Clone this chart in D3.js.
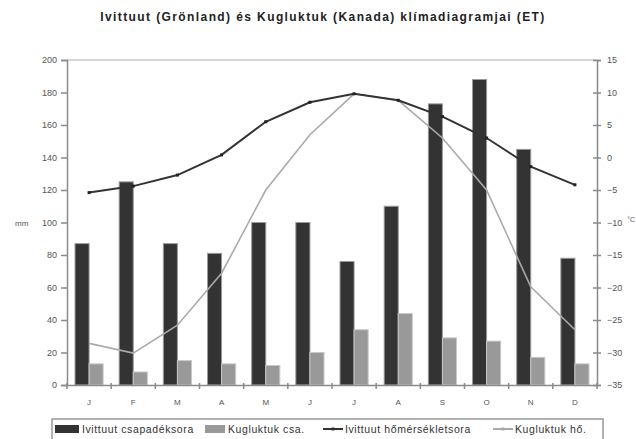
<!DOCTYPE html>
<html><head><meta charset="utf-8">
<script src="https://cdn.jsdelivr.net/npm/d3@7"></script>
<style>body{margin:0;background:#fff;} svg{display:block;font-family:"Liberation Sans",Arial,sans-serif;}</style>
</head><body>
<svg id="c" width="636" height="439"></svg>
<script>
const months = ["J","F","M","A","M","J","J","A","S","O","N","D"];
const ivPrecip = [87,125,87,81,100,100,76,110,173,188,145,78];
const kuPrecip = [13,8,15,13,12,20,34,44,29,27,17,13];
const ivTemp = [-5.4,-4.4,-2.7,0.4,5.5,8.5,9.8,8.8,6.3,3.0,-1.4,-4.2];
const kuTemp = [-28.6,-30.1,-25.8,-17.8,-5.0,3.5,9.8,8.8,3.0,-5.0,-19.9,-26.5];
const leftTicks = [0,20,40,60,80,100,120,140,160,180,200];
const rightTicks = [15,10,5,0,-5,-10,-15,-20,-25,-30,-35];
const title = "Ivittuut (Grönland) és Kugluktuk (Kanada) klímadiagramjai (ET)";
const legendLabels = ["Ivittuut csapadéksora","Kugluktuk csa.","Ivittuut hőmérsékletsora","Kugluktuk hő."];

const svg = d3.select("#c");
const L = 67, R = 597, T = 60, B = 385;
const x = d3.scaleBand().domain(d3.range(12)).range([L,R]);
const xi = d3.scaleBand().domain([0,1]).range([0,x.bandwidth()]).paddingInner(0).paddingOuter(0.57);
const yL = d3.scaleLinear().domain([0,200]).range([B,T]);
const yR = d3.scaleLinear().domain([-35,15]).range([B,T]);
const axisCol = "#8a8a8a";

svg.append("text").attr("x",323).attr("y",21).attr("text-anchor","middle")
  .attr("font-size",12).attr("letter-spacing",1.4).attr("font-weight","bold").attr("fill","#222").text(title);

// top border
svg.append("line").attr("x1",L).attr("x2",R).attr("y1",T).attr("y2",T).attr("stroke","#b0b0b0");

// bars
const g = svg.append("g");
g.selectAll(".d").data(ivPrecip).join("rect")
  .attr("x",(d,i)=>x(i)+xi(0)).attr("width",xi.bandwidth())
  .attr("y",d=>yL(d)).attr("height",d=>B-yL(d))
  .attr("fill","#333").attr("stroke","#9a9a9a").attr("stroke-width",1);
g.selectAll(".k").data(kuPrecip).join("rect")
  .attr("x",(d,i)=>x(i)+xi(1)).attr("width",xi.bandwidth())
  .attr("y",d=>yL(d)).attr("height",d=>B-yL(d))
  .attr("fill","#999").attr("stroke","#c8c8c8").attr("stroke-width",1);

// axes
const la = svg.append("g").attr("transform",`translate(${L},0)`)
  .call(d3.axisLeft(yL).tickValues(leftTicks).tickSize(6).tickPadding(4));
la.select(".domain").attr("stroke",axisCol).attr("stroke-width",1.5);
la.selectAll(".tick line").attr("stroke",axisCol).attr("stroke-width",1.5);
la.selectAll("text").attr("font-size",9).attr("fill","#555");

const ra = svg.append("g").attr("transform",`translate(${R},0)`)
  .call(d3.axisRight(yR).tickValues(rightTicks).tickSize(4).tickPadding(6).tickFormat(d3.format("d")));
ra.select(".domain").attr("stroke",axisCol).attr("stroke-width",1.5);
ra.selectAll(".tick line").attr("stroke",axisCol).attr("stroke-width",1.5).attr("x1",-4);
ra.selectAll("text").attr("font-size",9).attr("fill","#555");

const xa = svg.append("g").attr("transform",`translate(0,${B})`)
  .call(d3.axisBottom(x).tickFormat(i=>months[i]).tickSize(0).tickPadding(14));
xa.select(".domain").attr("stroke",axisCol).attr("stroke-width",1.5);
xa.selectAll("text").attr("font-size",8).attr("fill","#555");
svg.append("g").selectAll("line").data(d3.range(13)).join("line")
  .attr("x1",i=>L+i*x.step()).attr("x2",i=>L+i*x.step()).attr("y1",B-2).attr("y2",B+4)
  .attr("stroke",axisCol).attr("stroke-width",1.5);

svg.append("text").attr("x",15).attr("y",226).attr("font-size",8).attr("fill","#555").text("mm");
svg.append("text").attr("x",635).attr("y",222).attr("text-anchor","end").attr("font-size",7).attr("fill","#555").text("°C");

// lines
const lineGen = d3.line().x((d,i)=>x(i)+x.bandwidth()/2).y(d=>yR(d));
svg.append("path").datum(kuTemp).attr("d",lineGen).attr("fill","none").attr("stroke","#aaa").attr("stroke-width",1.6);
svg.append("path").datum(ivTemp).attr("d",lineGen).attr("fill","none").attr("stroke","#333").attr("stroke-width",2);
svg.append("g").selectAll("rect").data(ivTemp).join("rect")
  .attr("x",(d,i)=>x(i)+x.bandwidth()/2-1.5).attr("y",d=>yR(d)-1.5).attr("width",3).attr("height",3).attr("fill","#222");

// legend
const lg = svg.append("g");
lg.append("rect").attr("x",52).attr("y",419).attr("width",551).attr("height",22).attr("fill","#fff").attr("stroke","#999").attr("stroke-width",1.5);
const items = [
  {x:55, type:"bar", fill:"#333", tx:82},
  {x:205, type:"bar", fill:"#999", tx:228},
  {x:323, type:"line", stroke:"#333", tx:345},
  {x:493, type:"line", stroke:"#aaa", tx:515}
];
items.forEach((it,i)=>{
  if(it.type==="bar"){
    lg.append("rect").attr("x",it.x).attr("y",425).attr("width",it.tx-it.x-3).attr("height",8).attr("fill",it.fill);
  } else {
    lg.append("line").attr("x1",it.x).attr("x2",it.tx-2).attr("y1",429).attr("y2",429).attr("stroke",it.stroke).attr("stroke-width",2);
    lg.append("rect").attr("x",(it.x+it.tx)/2-2.5).attr("y",427.5).attr("width",3).attr("height",3).attr("fill",it.stroke);
  }
  lg.append("text").attr("x",it.tx).attr("y",433).attr("font-size",10.5).attr("letter-spacing",0.6).attr("fill","#333").text(legendLabels[i]);
});
</script>
</body></html>
